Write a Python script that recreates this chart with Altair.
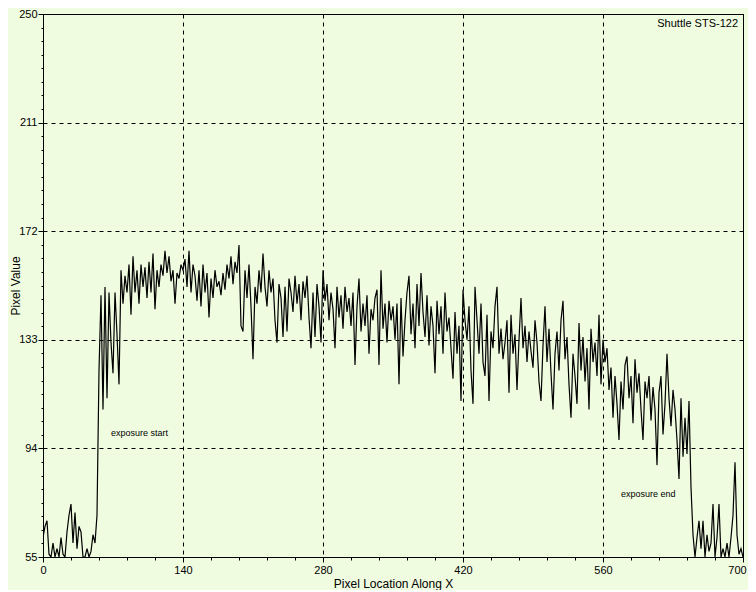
import altair as alt
import pandas as pd

# Pixel values, one every 2 pixels along X (x = 0, 2, ..., 700)
seg_pre = [62, 66, 68, 56, 55, 60, 55, 58, 55, 62, 56, 55, 64, 70, 74, 60, 71, 58,
           66, 64, 55, 55, 58, 55, 57, 63, 60, 70]
seg_rise = [122, 149, 108, 152, 112, 150, 132, 121, 150, 135,
            117, 158, 146, 156, 150, 160, 142, 163, 150, 158,
            146, 160, 152, 159, 148, 161, 150, 164, 144, 158,
            152, 160, 156, 165, 157, 163, 154, 158, 146, 157,
            155, 160, 158, 162, 152, 165, 150, 160, 156, 147,
            158, 145, 160, 150, 157, 141, 155, 148, 158, 152]
seg_mid1 = [154, 149, 157, 151, 160, 155, 163, 153, 161, 157,
            167, 138, 136, 158, 148, 160, 145, 126, 152, 146,
            158, 150, 164, 152, 145, 158, 150, 155, 140, 132,
            153, 148, 134, 152, 136, 155, 150, 143, 156, 146,
            153, 140, 154, 148, 156, 141, 130, 150, 134, 153,
            145, 132, 158, 147, 153, 140, 150, 144, 130, 152,
            141, 149, 137, 152, 143, 148, 138, 150, 124, 145,
            155, 136, 146, 138, 149, 128, 144, 140, 148, 151,
            124, 158, 137, 146, 132, 147, 140, 145, 133]
seg_mid2 = [146, 117, 148, 127, 140, 150, 156, 135, 146, 130,
            153, 138, 157, 143, 134, 149, 131, 145, 138, 121,
            147, 135, 145, 128, 150, 136, 141, 130, 119, 143,
            128, 138, 111, 151, 140, 133, 145, 122, 110, 152,
            140, 128, 146, 125, 120, 142, 111, 136, 130, 145,
            152, 128, 137, 126, 132, 140, 114, 142, 128, 135,
            115, 133, 148, 130, 138, 125, 136, 129, 123, 140,
            132, 118, 111, 131, 145, 125, 137, 121, 108, 128,
            136, 122, 140, 147, 126, 134, 117]
seg_end = [105, 128, 120, 110, 139, 122, 134, 118, 130, 108,
           137, 125, 132, 120, 142, 117, 133, 125, 130, 115,
           123, 105, 120, 110, 97, 118, 108, 124, 127, 112,
           120, 103, 126, 114, 121, 108, 97, 118, 112, 120,
           104, 116, 108, 88, 114, 120, 99, 110, 128, 112,
           102, 115, 108, 97, 83, 112, 91, 105, 92, 111,
           80, 63, 55, 62, 68, 58, 68, 55, 63, 57,
           60, 74, 55, 62, 74, 55, 58, 55, 60, 55,
           62, 70, 89, 63, 56, 58, 55]

values = seg_pre + seg_rise + seg_mid1 + seg_mid2 + seg_end
xs = list(range(0, 2 * len(values), 2))
df = pd.DataFrame({"x": xs, "v": values})

# Axis ticks
x_ticks = list(range(0, 701, 28))              # majors every 140, minors every 28
y_ticks = [55 + 4.875 * k for k in range(41)]  # majors every 39, minors every 4.875

# Annotations
ann_text = ["exposure start", "exposure end"]
ann_x = [68, 578]
ann_y = [99.6, 77.6]
corner_text = ["Shuttle STS-122"]
corner_x = [695]
corner_y = [246.5]

BG = "#F0FCE0"
FONT = "Liberation Sans"

is_major_x = "datum.value % 140 == 0"
is_major_y = "abs((datum.value - 55) / 39 - round((datum.value - 55) / 39)) < 0.001"

xscale = alt.Scale(domain=[0, 700], nice=False, zero=False)
yscale = alt.Scale(domain=[55, 250], nice=False, zero=False)

x_axis = alt.Axis(
    values=x_ticks,
    tickCount=500,
    title="Pixel Location Along X",
    labelExpr=f"({is_major_x}) ? datum.label : ''",
    labelOverlap=False,
    labelFlush=False,
    labelOffset={"condition": {"test": "datum.value == 700", "value": -6}, "value": 0},
    tickSize={"condition": {"test": is_major_x, "value": 5}, "value": 3},
    gridOpacity={"condition": {"test": is_major_x, "value": 1}, "value": 0},
    grid=True,
    gridColor="black",
    gridDash=[4, 4],
    gridWidth=1,
    labelPadding=2,
    titleY=26,
    titleBaseline="middle",
)
y_axis = alt.Axis(
    values=y_ticks,
    tickCount=500,
    title="Pixel Value",
    labelExpr=f"({is_major_y}) ? format(datum.value, 'd') : ''",
    labelOverlap=False,
    labelFlush=False,
    tickSize={"condition": {"test": is_major_y, "value": 5}, "value": 2},
    gridOpacity={"condition": {"test": is_major_y, "value": 1}, "value": 0},
    grid=True,
    gridColor="black",
    gridDash=[4, 4],
    gridWidth=1,
    labelPadding=1,
    titleX=-28,
    titleBaseline="middle",
)

line = alt.Chart(df).mark_line(color="black", strokeWidth=1.2, clip=True).encode(
    x=alt.X("x:Q", scale=xscale, axis=x_axis),
    y=alt.Y("v:Q", scale=yscale, axis=y_axis),
)

ann_df = pd.DataFrame({"x": ann_x, "v": ann_y, "t": ann_text})
ann = alt.Chart(ann_df).mark_text(
    align="left", baseline="middle", fontSize=9, font=FONT, color="black"
).encode(x=alt.X("x:Q", scale=xscale), y=alt.Y("v:Q", scale=yscale), text="t:N")

corner_df = pd.DataFrame({"x": corner_x, "v": corner_y, "t": corner_text})
corner = alt.Chart(corner_df).mark_text(
    align="right", baseline="middle", fontSize=11, font=FONT, color="black"
).encode(x=alt.X("x:Q", scale=xscale), y=alt.Y("v:Q", scale=yscale), text="t:N")

chart = (
    alt.layer(line, ann, corner)
    .properties(
        width=700,
        height=543,
        autosize="none",
        padding={"left": 35, "top": 6, "right": 5, "bottom": 33},
        background=BG,
    )
    .configure_view(stroke="black", strokeWidth=1, fill=BG)
    .configure_axis(
        domainColor="black",
        domainWidth=1,
        tickColor="black",
        tickWidth=1,
        labelFont=FONT,
        labelFontSize=11,
        labelColor="black",
        titleFont=FONT,
        titleFontSize=12,
        titleFontWeight="normal",
        titleColor="black",
    )
)

chart.save("out.html", embed_options={"renderer": "svg", "actions": False})
